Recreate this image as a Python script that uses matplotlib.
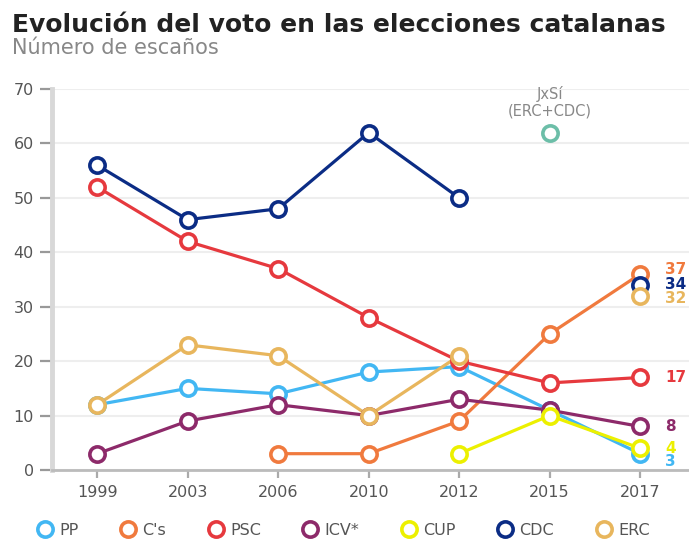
import numpy as np
import matplotlib.pyplot as plt
from matplotlib.lines import Line2D

YEARS = ["1999", "2003", "2006", "2010", "2012", "2015", "2017"]

# seats per party, None = did not run / no data
PP  = [12, 15, 14, 18, 19, 11, 3]
CS  = [None, None, 3, 3, 9, 25, 36]
PSC = [52, 42, 37, 28, 20, 16, 17]
ICV = [3, 9, 12, 10, 13, 11, 8]
CUP = [None, None, None, None, 3, 10, 4]
CDC = [56, 46, 48, 62, 50, None, 34]
ERC = [12, 23, 21, 10, 21, None, 32]
JXSI_2015 = 62

END_LABELS = ["3", "37", "17", "8", "4", "34", "32"]
END_OFFSET = [-1.5, 0.9, 0, 0, 0, 0, -0.5]

NAMES  = ["PP", "C's", "PSC", "ICV*", "CUP", "CDC", "ERC"]
COLORS = ["#42b7f3", "#f07a3e", "#e6393e", "#8d2a6a", "#ecf000", "#0b2c85", "#e8b65d"]
TEAL   = "#6cbea8"
GRID   = "#eeeeee"
TEXT   = "#555555"

plt.rcParams["font.family"] = ["DejaVu Sans"]

fig = plt.figure(figsize=(6.89, 5.45), dpi=100)
ax = fig.add_axes([0.0755, 0.1376, 0.9245, 0.699])

x = np.arange(len(YEARS))
series = [PP, CS, PSC, ICV, CUP, CDC, ERC]

for vals, col in zip(series, COLORS):
    v = np.array([np.nan if s is None else s for s in vals], dtype=float)
    # NaN breaks the line (CDC / ERC ran together in 2015)
    ax.plot(x, v, "-", color=col, lw=2.3, zorder=2)
    ax.plot(x, v, "o", ms=11, mfc="white", mec=col, mew=2.6, zorder=3)

ax.plot([5], [JXSI_2015], "o", ms=11, mfc="white", mec=TEAL, mew=2.6, zorder=3)
ax.text(5, JXSI_2015 + 2.6, "JxSí\n(ERC+CDC)", ha="center", va="bottom",
        fontsize=10.5, color="#888888", linespacing=1.15)

for vals, lab, off, col in zip(series, END_LABELS, END_OFFSET, COLORS):
    ax.text(6.28, vals[-1] + off, lab, color=col, fontsize=11,
            fontweight="bold", va="center", ha="left")

ax.set_xlim(-0.5, 6.54)
ax.set_ylim(0, 70)
ax.set_yticks(range(0, 71, 10))
ax.set_xticks(x)
ax.set_xticklabels(YEARS)
ax.grid(axis="y", color=GRID, lw=1.5)
ax.set_axisbelow(True)
for side in ["top", "right"]:
    ax.spines[side].set_visible(False)
ax.spines["left"].set_color("#d8d8d8")
ax.spines["left"].set_linewidth(3.5)
ax.spines["bottom"].set_color("#bbbbbb")
ax.spines["bottom"].set_linewidth(2)
ax.tick_params(axis="y", length=9, width=1.6, color="#999999",
               labelcolor=TEXT, labelsize=11.5, pad=4)
ax.tick_params(axis="x", length=6, width=1.6, color="#aaaaaa",
               labelcolor=TEXT, labelsize=11.5, pad=5)

fig.text(0.017, 0.955, "Evolución del voto en las elecciones catalanas",
         fontsize=18, fontweight="bold", color="#222222", va="center")
fig.text(0.017, 0.912, "Número de escaños", fontsize=15,
         color="#888888", va="center")

handles = [Line2D([], [], ls="none", marker="o", ms=11, mfc="white",
                  mec=c, mew=2.6) for c in COLORS]
fig.legend(handles, NAMES, loc="center", ncol=7, frameon=False,
           bbox_to_anchor=(0.497, 0.027), fontsize=11.5, labelcolor=TEXT,
           handletextpad=0.3, columnspacing=2.5, handlelength=1.2)

fig.savefig("out.png", dpi=100)
